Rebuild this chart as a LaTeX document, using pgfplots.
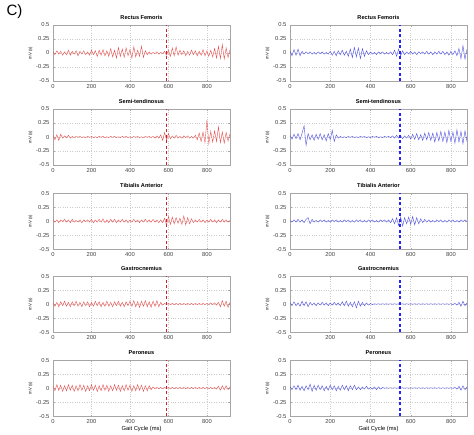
\documentclass[border=0pt]{standalone}
\usepackage{fontspec}
\setmainfont{Liberation Sans}
\usepackage{pgfplots}
\pgfplotsset{compat=1.18}
\definecolor{sigred}{RGB}{232,80,80}
\definecolor{dashred}{RGB}{210,30,40}
\definecolor{sigblue}{RGB}{80,80,225}
\definecolor{dashblue}{RGB}{35,35,250}

\pgfplotsset{
  emg/.style={
    scale only axis, width=177pt, height=56pt,
    anchor=north west,
    xmin=0, ymin=-0.5, ymax=0.5,
    xtick={0,200,400,600,800},
    ytick={-0.5,-0.25,0,0.25,0.5},
    yticklabels={-0.5,-0.25,0,0.25,0.5},
    /pgf/number format/assume math mode=true,
    grid=major, grid style={dotted, gray!40},
    axis line style={gray!70}, tick style={gray!70},
    tick label style={font=\fontsize{5.8}{6}\selectfont, text=black!75},
    title style={font=\bfseries\fontsize{5.6}{6}\selectfont, yshift=-4pt},
    ylabel={mV (s)}, ylabel style={font=\fontsize{4.2}{4.5}\selectfont, yshift=-3pt},
    xlabel style={font=\fontsize{5.8}{6}\selectfont, yshift=4.5pt},
    major tick length=1.5pt,
  },
  lcol/.style={emg, xmax=920},
  rcol/.style={emg, xmax=880},
  red sig/.style={sigred, line width=0.4pt},
  blue sig/.style={sigblue, line width=0.4pt},
  red dash/.style={dashred, line width=1.7pt, dash pattern=on 3pt off 2.5pt},
  blue dash/.style={dashblue, line width=1.8pt, dash pattern=on 3pt off 2.5pt},
}

\begin{document}
\begin{tikzpicture}
\useasboundingbox (0,0) rectangle (474pt,-434pt);
\node[anchor=west, font=\fontsize{15}{16}\selectfont] at (3pt,-12pt) {C)};

% ---------- Rectus Femoris
\begin{axis}[lcol, at={(53pt,-25pt)}, title={Rectus Femoris}]
\addplot[red sig] coordinates {
(0,0.02)(10,-0.03)(20,0.04)(30,-0.02)(40,0.03)(50,-0.04)(60,0.02)(70,-0.03)(80,0.05)(90,-0.04)
(100,0.03)(110,-0.02)(120,0.04)(130,-0.05)(140,0.03)(150,-0.02)(160,0.04)(170,-0.03)(180,0.02)(190,-0.04)
(200,0.05)(210,-0.03)(220,0.04)(230,-0.06)(240,0.05)(250,-0.04)(260,0.06)(270,-0.05)(280,0.04)(290,-0.06)
(300,0.08)(310,-0.07)(320,0.05)(330,-0.09)(340,0.1)(350,-0.06)(360,0.07)(370,-0.08)(380,0.09)(390,-0.05)
(400,0.06)(410,-0.09)(420,0.11)(430,-0.07)(440,0.05)(450,-0.06)(460,0.12)(470,-0.08)(480,0.04)(490,-0.03)
(500,0.02)(510,-0.02)(520,0.01)(530,-0.01)(540,0.02)(550,-0.02)(560,0.01)(570,-0.01)(580,0.03)(590,-0.04)
(600,0.05)(610,-0.06)(620,0.09)(630,-0.05)(640,0.11)(650,-0.04)(660,0.05)(670,-0.03)(680,0.04)(690,-0.05)
(700,0.03)(710,-0.04)(720,0.05)(730,-0.03)(740,0.04)(750,-0.05)(760,0.03)(770,-0.04)(780,0.06)(790,-0.05)
(800,0.04)(810,-0.06)(820,0.05)(830,-0.07)(840,0.08)(850,-0.09)(860,0.12)(870,-0.1)(880,0.15)(890,-0.11)
(900,0.09)(910,-0.08)(920,0.06)};
\addplot[red dash] coordinates {(590,-0.5)(590,0.5)};
\end{axis}

\begin{axis}[rcol, at={(290pt,-25pt)}, title={Rectus Femoris}]
\addplot[blue sig] coordinates {
(0,0.03)(10,-0.05)(20,0.06)(30,-0.04)(40,0.07)(50,-0.05)(60,0.03)(70,-0.02)(80,0.02)(90,-0.01)
(100,0.02)(110,-0.02)(120,0.01)(130,-0.02)(140,0.02)(150,-0.01)(160,0.02)(170,-0.02)(180,0.01)(190,-0.02)
(200,0.03)(210,-0.04)(220,0.03)(230,-0.05)(240,0.04)(250,-0.03)(260,0.05)(270,-0.04)(280,0.03)(290,-0.06)
(300,0.07)(310,-0.08)(320,0.1)(330,-0.07)(340,0.09)(350,-0.1)(360,0.08)(370,-0.06)(380,0.04)(390,-0.03)
(400,0.02)(410,-0.02)(420,0.01)(430,-0.03)(440,0.02)(450,-0.01)(460,0.02)(470,-0.02)(480,0.01)(490,-0.02)
(500,0.02)(510,-0.03)(520,0.05)(530,-0.06)(540,0.07)(550,-0.05)(560,0.04)(570,-0.03)(580,0.02)(590,-0.02)
(600,0.03)(610,-0.02)(620,0.02)(630,-0.03)(640,0.02)(650,-0.01)(660,0.02)(670,-0.02)(680,0.03)(690,-0.02)
(700,0.02)(710,-0.03)(720,0.02)(730,-0.02)(740,0.03)(750,-0.02)(760,0.03)(770,-0.03)(780,0.02)(790,-0.04)
(800,0.03)(810,-0.03)(820,0.04)(830,-0.05)(840,0.08)(850,-0.1)(860,0.13)(870,-0.11)(880,0.07)};
\addplot[blue dash] coordinates {(545,-0.5)(545,0.5)};
\end{axis}

% ---------- Semi-tendinosus
\begin{axis}[lcol, at={(53pt,-109pt)}, title={Semi-tendinosus}]
\addplot[red sig] coordinates {
(0,0.03)(10,-0.05)(20,0.04)(30,-0.06)(40,0.05)(50,-0.02)(60,0.02)(70,-0.01)(80,0.03)(90,-0.02)
(100,0.01)(110,-0.01)(120,0.01)(130,-0.005)(140,0.01)(150,-0.01)(160,0.005)(170,-0.01)(180,0.01)(190,-0.005)
(200,0.01)(210,-0.01)(220,0.005)(230,-0.01)(240,0.01)(250,-0.005)(260,0.01)(270,-0.01)(280,0.005)(290,-0.01)
(300,0.01)(310,-0.005)(320,0.01)(330,-0.01)(340,0.005)(350,-0.01)(360,0.01)(370,-0.005)(380,0.01)(390,-0.01)
(400,0.005)(410,-0.01)(420,0.01)(430,-0.005)(440,0.01)(450,-0.01)(460,0.005)(470,-0.01)(480,0.01)(490,-0.005)
(500,0.01)(510,-0.01)(520,0.01)(530,-0.02)(540,0.02)(550,-0.02)(560,0.04)(570,-0.06)(580,0.08)(590,-0.05)
(600,0.06)(610,-0.03)(620,0.02)(630,-0.02)(640,0.03)(650,-0.02)(660,0.01)(670,-0.02)(680,0.02)(690,-0.01)
(700,0.02)(710,-0.02)(720,0.01)(730,-0.02)(740,0.03)(750,-0.05)(760,0.07)(770,-0.08)(780,0.09)(790,-0.1)
(800,0.3)(810,-0.12)(820,0.1)(830,-0.09)(840,0.11)(850,-0.08)(860,0.18)(870,-0.1)(880,0.09)(890,-0.11)
(900,0.08)(910,-0.07)(920,0.06)};
\addplot[red dash] coordinates {(590,-0.5)(590,0.5)};
\end{axis}

\begin{axis}[rcol, at={(290pt,-109pt)}, title={Semi-tendinosus}]
\addplot[blue sig] coordinates {
(0,0.03)(10,-0.04)(20,0.05)(30,-0.03)(40,0.06)(50,-0.05)(60,0.07)(70,0.2)(80,-0.15)(90,0.06)
(100,-0.05)(110,0.04)(120,-0.06)(130,0.05)(140,-0.04)(150,0.06)(160,-0.05)(170,0.04)(180,-0.07)(190,0.06)
(200,-0.05)(210,0.12)(220,-0.08)(230,0.04)(240,-0.02)(250,0.01)(260,-0.01)(270,0.005)(280,-0.01)(290,0.01)
(300,-0.005)(310,0.01)(320,-0.01)(330,0.005)(340,-0.01)(350,0.01)(360,-0.005)(370,0.01)(380,-0.01)(390,0.005)
(400,-0.01)(410,0.01)(420,-0.005)(430,0.01)(440,-0.01)(450,0.005)(460,-0.01)(470,0.01)(480,-0.005)(490,0.01)
(500,-0.01)(510,0.02)(520,-0.02)(530,0.03)(540,-0.02)(550,0.02)(560,-0.03)(570,0.02)(580,-0.02)(590,0.03)
(600,-0.04)(610,0.05)(620,-0.04)(630,0.06)(640,-0.05)(650,0.04)(660,-0.06)(670,0.07)(680,-0.05)(690,0.08)
(700,-0.06)(710,0.07)(720,-0.09)(730,0.08)(740,-0.07)(750,0.1)(760,-0.08)(770,0.09)(780,-0.1)(790,0.12)
(800,-0.08)(810,0.09)(820,-0.11)(830,0.13)(840,-0.09)(850,0.1)(860,-0.12)(870,0.11)(880,-0.08)};
\addplot[blue dash] coordinates {(545,-0.5)(545,0.5)};
\end{axis}

% ---------- Tibialis Anterior
\begin{axis}[lcol, at={(53pt,-193pt)}, title={Tibialis Anterior}]
\addplot[red sig] coordinates {
(0,0.01)(10,-0.02)(20,0.02)(30,-0.03)(40,0.02)(50,-0.01)(60,0.03)(70,-0.02)(80,0.02)(90,-0.03)
(100,0.03)(110,-0.02)(120,0.01)(130,-0.02)(140,0.02)(150,-0.03)(160,0.02)(170,-0.01)(180,0.02)(190,-0.02)
(200,0.03)(210,-0.03)(220,0.02)(230,-0.02)(240,0.03)(250,-0.02)(260,0.04)(270,-0.03)(280,0.02)(290,-0.03)
(300,0.03)(310,-0.02)(320,0.03)(330,-0.03)(340,0.02)(350,-0.02)(360,0.03)(370,-0.02)(380,0.02)(390,-0.03)
(400,0.02)(410,-0.02)(420,0.03)(430,-0.02)(440,0.02)(450,-0.03)(460,0.02)(470,-0.02)(480,0.03)(490,-0.02)
(500,0.02)(510,-0.02)(520,0.03)(530,-0.02)(540,0.02)(550,-0.03)(560,0.02)(570,-0.03)(580,0.05)(590,-0.07)
(600,0.08)(610,-0.06)(620,0.07)(630,-0.05)(640,0.06)(650,-0.04)(660,0.05)(670,-0.06)(680,0.09)(690,-0.07)
(700,0.06)(710,-0.05)(720,0.04)(730,-0.03)(740,0.02)(750,-0.02)(760,0.03)(770,-0.02)(780,0.02)(790,-0.03)
(800,0.02)(810,-0.02)(820,0.03)(830,-0.02)(840,0.02)(850,-0.03)(860,0.02)(870,-0.02)(880,0.03)(890,-0.02)
(900,0.02)(910,-0.02)(920,0.01)};
\addplot[red dash] coordinates {(590,-0.5)(590,0.5)};
\end{axis}

\begin{axis}[rcol, at={(290pt,-193pt)}, title={Tibialis Anterior}]
\addplot[blue sig] coordinates {
(0,0.01)(10,-0.02)(20,0.02)(30,-0.02)(40,0.03)(50,-0.02)(60,0.02)(70,-0.03)(80,0.03)(90,0.06)
(100,-0.05)(110,0.03)(120,-0.02)(130,0.01)(140,-0.02)(150,0.02)(160,-0.01)(170,0.02)(180,-0.02)(190,0.01)
(200,-0.02)(210,0.02)(220,-0.01)(230,0.02)(240,-0.02)(250,0.01)(260,-0.02)(270,0.02)(280,-0.01)(290,0.02)
(300,-0.02)(310,0.01)(320,-0.02)(330,0.02)(340,-0.01)(350,0.02)(360,-0.02)(370,0.01)(380,-0.02)(390,0.02)
(400,-0.01)(410,0.02)(420,-0.02)(430,0.01)(440,-0.02)(450,0.02)(460,-0.01)(470,0.02)(480,-0.02)(490,0.02)
(500,-0.03)(510,0.04)(520,-0.05)(530,0.06)(540,-0.08)(550,0.07)(560,-0.09)(570,0.06)(580,-0.05)(590,0.07)
(600,-0.06)(610,0.08)(620,-0.07)(630,0.06)(640,-0.05)(650,0.04)(660,-0.03)(670,0.03)(680,-0.02)(690,0.02)
(700,-0.02)(710,0.01)(720,-0.02)(730,0.02)(740,-0.01)(750,0.02)(760,-0.02)(770,0.01)(780,-0.02)(790,0.02)
(800,-0.01)(810,0.02)(820,-0.02)(830,0.01)(840,-0.02)(850,0.02)(860,-0.01)(870,0.02)(880,-0.01)};
\addplot[blue dash] coordinates {(545,-0.5)(545,0.5)};
\end{axis}

% ---------- Gastrocnemius
\begin{axis}[lcol, at={(53pt,-276pt)}, title={Gastrocnemius}]
\addplot[red sig] coordinates {
(0,0.02)(10,-0.04)(20,0.03)(30,-0.05)(40,0.04)(50,-0.03)(60,0.05)(70,-0.04)(80,0.03)(90,-0.05)
(100,0.04)(110,-0.03)(120,0.05)(130,-0.04)(140,0.03)(150,-0.05)(160,0.04)(170,-0.03)(180,0.04)(190,-0.05)
(200,0.03)(210,-0.04)(220,0.05)(230,-0.03)(240,0.04)(250,-0.05)(260,0.03)(270,-0.04)(280,0.05)(290,-0.04)
(300,0.03)(310,-0.05)(320,0.04)(330,-0.03)(340,0.05)(350,-0.04)(360,0.03)(370,-0.05)(380,0.04)(390,-0.03)
(400,0.05)(410,-0.04)(420,0.06)(430,-0.05)(440,0.04)(450,-0.06)(460,0.05)(470,-0.04)(480,0.06)(490,-0.05)
(500,0.04)(510,-0.06)(520,0.05)(530,-0.04)(540,0.06)(550,-0.05)(560,0.03)(570,-0.02)(580,0.01)(590,-0.01)
(600,0.01)(610,-0.01)(620,0.01)(630,-0.01)(640,0.01)(650,-0.01)(660,0.01)(670,-0.01)(680,0.01)(690,-0.01)
(700,0.01)(710,-0.01)(720,0.01)(730,-0.01)(740,0.01)(750,-0.01)(760,0.01)(770,-0.01)(780,0.01)(790,-0.01)
(800,0.01)(810,-0.01)(820,0.02)(830,-0.01)(840,0.02)(850,-0.02)(860,0.03)(870,-0.05)(880,0.06)(890,-0.04)
(900,0.05)(910,-0.06)(920,0.03)};
\addplot[red dash] coordinates {(590,-0.5)(590,0.5)};
\end{axis}

\begin{axis}[rcol, at={(290pt,-276pt)}, title={Gastrocnemius}]
\addplot[blue sig] coordinates {
(0,0.02)(10,-0.03)(20,0.04)(30,-0.03)(40,0.02)(50,-0.04)(60,0.05)(70,-0.03)(80,0.04)(90,-0.05)
(100,0.03)(110,-0.02)(120,0.02)(130,-0.03)(140,0.02)(150,-0.02)(160,0.03)(170,-0.02)(180,0.02)(190,-0.03)
(200,0.02)(210,-0.02)(220,0.03)(230,-0.02)(240,0.02)(250,-0.03)(260,0.04)(270,-0.03)(280,0.05)(290,-0.04)
(300,0.03)(310,-0.05)(320,0.04)(330,-0.07)(340,0.05)(350,-0.04)(360,0.03)(370,-0.03)(380,0.02)(390,-0.02)
(400,0.01)(410,-0.01)(420,0.005)(430,-0.005)(440,0.005)(450,-0.005)(460,0.005)(470,-0.005)(480,0.005)(490,-0.005)
(500,0.005)(510,-0.005)(520,0.005)(530,-0.005)(540,0.005)(550,-0.005)(560,0.005)(570,-0.005)(580,0.005)(590,-0.005)
(600,0.005)(610,-0.005)(620,0.005)(630,-0.005)(640,0.005)(650,-0.005)(660,0.005)(670,-0.005)(680,0.005)(690,-0.005)
(700,0.005)(710,-0.005)(720,0.005)(730,-0.005)(740,0.005)(750,-0.005)(760,0.005)(770,-0.005)(780,0.005)(790,-0.005)
(800,0.005)(810,-0.01)(820,0.01)(830,-0.02)(840,0.03)(850,-0.04)(860,0.05)(870,-0.03)(880,0.02)};
\addplot[blue dash] coordinates {(545,-0.5)(545,0.5)};
\end{axis}

% ---------- Peroneus
\begin{axis}[lcol, at={(53pt,-360pt)}, title={Peroneus}, xlabel={Gait Cycle (ms)}]
\addplot[red sig] coordinates {
(0,0.03)(10,-0.05)(20,0.06)(30,-0.04)(40,0.05)(50,-0.06)(60,0.04)(70,-0.05)(80,0.06)(90,-0.04)
(100,0.05)(110,-0.06)(120,0.04)(130,-0.05)(140,0.06)(150,-0.04)(160,0.05)(170,-0.06)(180,0.04)(190,-0.05)
(200,0.06)(210,-0.04)(220,0.05)(230,-0.06)(240,0.04)(250,-0.05)(260,0.06)(270,-0.04)(280,0.05)(290,-0.06)
(300,0.04)(310,-0.05)(320,0.06)(330,-0.04)(340,0.05)(350,-0.06)(360,0.04)(370,-0.05)(380,0.06)(390,-0.04)
(400,0.05)(410,-0.06)(420,0.04)(430,-0.05)(440,0.06)(450,-0.04)(460,0.05)(470,-0.06)(480,0.04)(490,-0.05)
(500,0.04)(510,-0.03)(520,0.02)(530,-0.01)(540,0.01)(550,-0.01)(560,0.01)(570,-0.01)(580,0.01)(590,-0.01)
(600,0.01)(610,-0.01)(620,0.01)(630,-0.01)(640,0.01)(650,-0.01)(660,0.01)(670,-0.01)(680,0.01)(690,-0.01)
(700,0.01)(710,-0.01)(720,0.01)(730,-0.01)(740,0.01)(750,-0.01)(760,0.01)(770,-0.01)(780,0.01)(790,-0.01)
(800,0.01)(810,-0.01)(820,0.01)(830,-0.01)(840,0.01)(850,-0.02)(860,0.03)(870,-0.04)(880,0.04)(890,-0.03)
(900,0.04)(910,-0.03)(920,0.02)};
\addplot[red dash] coordinates {(590,-0.5)(590,0.5)};
\end{axis}

\begin{axis}[rcol, at={(290pt,-360pt)}, title={Peroneus}, xlabel={Gait Cycle (ms)}]
\addplot[blue sig] coordinates {
(0,0.02)(10,-0.03)(20,0.04)(30,-0.03)(40,0.05)(50,-0.04)(60,0.03)(70,-0.05)(80,0.04)(90,-0.03)
(100,0.07)(110,-0.06)(120,0.05)(130,-0.04)(140,0.05)(150,-0.03)(160,0.04)(170,-0.05)(180,0.03)(190,-0.04)
(200,0.05)(210,-0.03)(220,0.04)(230,-0.05)(240,0.03)(250,-0.04)(260,0.05)(270,-0.03)(280,0.04)(290,-0.05)
(300,0.04)(310,-0.03)(320,0.05)(330,-0.03)(340,0.02)(350,-0.03)(360,0.02)(370,-0.02)(380,0.03)(390,-0.02)
(400,0.01)(410,-0.02)(420,0.02)(430,-0.03)(440,0.02)(450,-0.02)(460,0.01)(470,-0.005)(480,0.005)(490,-0.005)
(500,0.005)(510,-0.005)(520,0.005)(530,-0.005)(540,0.005)(550,-0.005)(560,0.005)(570,-0.005)(580,0.005)(590,-0.005)
(600,0.005)(610,-0.005)(620,0.005)(630,-0.005)(640,0.005)(650,-0.005)(660,0.005)(670,-0.005)(680,0.005)(690,-0.005)
(700,0.005)(710,-0.005)(720,0.005)(730,-0.005)(740,0.005)(750,-0.005)(760,0.005)(770,-0.005)(780,0.005)(790,-0.005)
(800,0.005)(810,-0.005)(820,0.01)(830,-0.02)(840,0.03)(850,-0.04)(860,0.04)(870,-0.03)(880,0.02)};
\addplot[blue dash] coordinates {(545,-0.5)(545,0.5)};
\end{axis}
\end{tikzpicture}
\end{document}
